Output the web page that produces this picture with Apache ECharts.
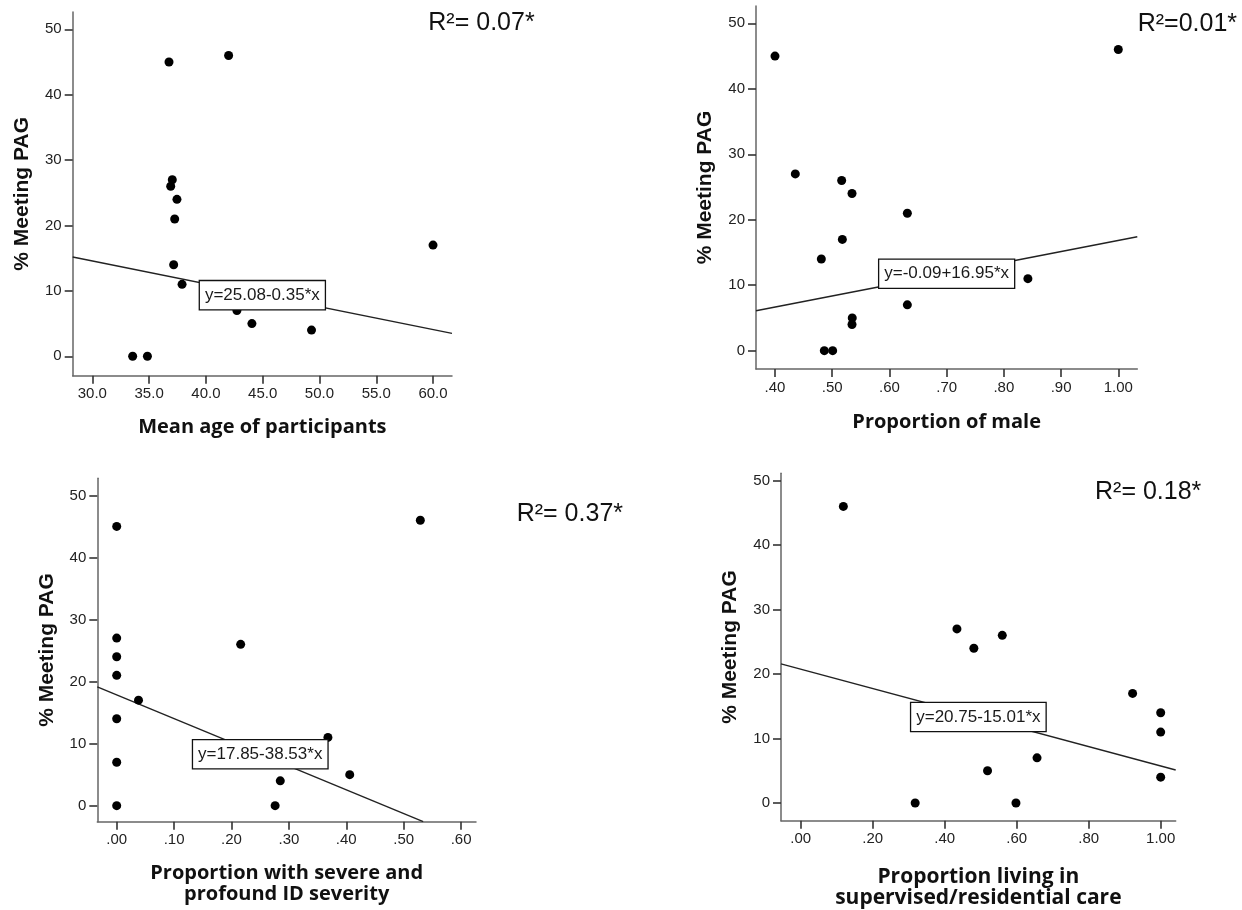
<!DOCTYPE html>
<html>
<head>
<meta charset="utf-8">
<script src="https://cdn.jsdelivr.net/npm/echarts@6/dist/echarts.min.js"></script>
<style>
  html, body { margin: 0; background: #fff; }
  #chart { width: 1242px; height: 910px; }
</style>
</head>
<body>
<div id="chart"></div>
<script>
// shared y ticks (% meeting PAG)
const yTicks = [0, 10, 20, 30, 40, 50];

// panel 1 - mean age
const ageX = [36.75, 42.0, 37.04, 36.9, 37.45, 37.25, 37.16, 37.9, 42.73, 44.05, 49.3, 60.0, 33.55, 34.85];
const ageY = [45, 46, 27, 26, 24, 21, 14, 11, 7, 5, 4, 17, 0, 0];
const ageFitX = [28.27, 61.67];
const ageFitY = [15.19, 3.5];
const ageTicks = [30, 35, 40, 45, 50, 55, 60];

// panel 2 - proportion of male
const maleX = [0.40, 0.4355, 0.5165, 0.5346, 0.6313, 0.5177, 0.481, 0.842, 0.6313, 0.535, 0.5346, 0.4862, 0.5008, 1.00];
const maleY = [45, 27, 26, 24, 21, 17, 14, 11, 7, 5, 4, 0, 0, 46];
const maleFitX = [0.3668, 1.0332];
const maleFitY = [6.1, 17.4];
const maleTicks = [0.4, 0.5, 0.6, 0.7, 0.8, 0.9, 1.0];

// panel 3 - severe / profound ID
const sevX = [0, 0, 0, 0, 0, 0, 0, 0.038, 0.216, 0.368, 0.285, 0.276, 0.406, 0.529];
const sevY = [45, 27, 24, 21, 14, 7, 0, 17, 26, 11, 4, 0, 5, 46];
const sevFitX = [-0.0338, 0.534];
const sevFitY = [19.15, -2.58];
const sevTicks = [0, 0.1, 0.2, 0.3, 0.4, 0.5, 0.6];

// panel 4 - supervised / residential care
const resX = [0.1185, 0.434, 0.481, 0.560, 0.922, 1.00, 1.00, 1.00, 0.6565, 0.519, 0.318, 0.598];
const resY = [46, 27, 24, 26, 17, 14, 11, 4, 7, 5, 0, 0];
const resFitX = [-0.0547, 1.0417];
const resFitY = [21.57, 5.12];
const resTicks = [0, 0.2, 0.4, 0.6, 0.8, 1.0];

const xTitles = [
  'Mean age of participants',
  'Proportion of male',
  'Proportion with severe and\nprofound ID severity',
  'Proportion living in\nsupervised/residential care'
];
const equations = ['y=25.08-0.35*x', 'y=-0.09+16.95*x', 'y=17.85-38.53*x', 'y=20.75-15.01*x'];
const r2Labels = ['R\u00b2= 0.07*', 'R\u00b2=0.01*', 'R\u00b2= 0.37*', 'R\u00b2= 0.18*'];

const zip = (xs, ys) => xs.map((x, i) => [x, ys[i]]);
const propFmt = v => v.toFixed(2).replace(/^0/, '');

const panels = [
  { xs: ageX, ys: ageY, fx: ageFitX, fy: ageFitY, ticks: ageTicks, fmt: v => v.toFixed(1),
    xmin: 28.27, xmax: 61.67, ymin: -2.97, ymax: 52.65, nameGap: 41, titleSize: 20,
    grid: { left: 72.7, top: 12, width: 379.3, height: 363.7 } },
  { xs: maleX, ys: maleY, fx: maleFitX, fy: maleFitY, ticks: maleTicks, fmt: propFmt,
    xmin: 0.3668, xmax: 1.0332, ymin: -2.8, ymax: 52.65, nameGap: 43, titleSize: 20,
    grid: { left: 756, top: 6, width: 381.3, height: 363 } },
  { xs: sevX, ys: sevY, fx: sevFitX, fy: sevFitY, ticks: sevTicks, fmt: propFmt,
    xmin: -0.0338, xmax: 0.626, ymin: -2.58, ymax: 52.75, nameGap: 41, titleSize: 20,
    grid: { left: 97.3, top: 478.3, width: 378.7, height: 343.4 } },
  { xs: resX, ys: resY, fx: resFitX, fy: resFitY, ticks: resTicks, fmt: propFmt,
    xmin: -0.0547, xmax: 1.0417, ymin: -2.75, ymax: 51.14, nameGap: 46, titleSize: 21,
    grid: { left: 781, top: 473.3, width: 394.7, height: 347.4 } }
];

const grid = [], xAxis = [], yAxis = [], series = [];

panels.forEach((p, i) => {
  grid.push(p.grid);
  xAxis.push({
    type: 'value', gridIndex: i,
    min: p.xmin, max: p.xmax,
    name: xTitles[i], nameLocation: 'middle', nameGap: p.nameGap,
    nameTextStyle: { fontFamily: 'Open Sans', fontWeight: 'bold', fontSize: p.titleSize, color: '#111', lineHeight: 21 },
    splitLine: { show: false },
    axisLine: { onZero: false, lineStyle: { color: '#666', width: 1.5 } },
    axisTick: { customValues: p.ticks, length: 8, lineStyle: { color: '#333', width: 1.6 } },
    axisLabel: { customValues: p.ticks, formatter: p.fmt, margin: 11,
      fontFamily: 'Liberation Sans', fontSize: 15, color: '#222' }
  });
  yAxis.push({
    type: 'value', gridIndex: i,
    min: p.ymin, max: p.ymax,
    name: '% Meeting PAG', nameLocation: 'middle', nameGap: 40,
    nameTextStyle: { fontFamily: 'Liberation Sans', fontWeight: 'bold', fontSize: 21, color: '#111' },
    splitLine: { show: false },
    axisLine: { show: true, onZero: false, lineStyle: { color: '#666', width: 1.5 } },
    axisTick: { customValues: yTicks, length: 8, lineStyle: { color: '#333', width: 1.6 } },
    axisLabel: { customValues: yTicks, margin: 11,
      fontFamily: 'Liberation Sans', fontSize: 15, color: '#222' }
  });
  // regression line
  series.push({
    type: 'line', xAxisIndex: i, yAxisIndex: i,
    data: zip(p.fx, p.fy), symbol: 'none', silent: true,
    lineStyle: { color: '#222', width: 1.4 }, z: 2
  });
  // observations
  series.push({
    type: 'scatter', xAxisIndex: i, yAxisIndex: i,
    data: zip(p.xs, p.ys), symbolSize: 9,
    itemStyle: { color: '#000', opacity: 1 }, z: 3
  });
  // equation box at the middle of the fit line
  series.push({
    type: 'scatter', xAxisIndex: i, yAxisIndex: i, silent: true,
    data: [[(p.fx[0] + p.fx[1]) / 2, (p.fy[0] + p.fy[1]) / 2]],
    symbolSize: 1, itemStyle: { color: '#fff', opacity: 1 }, z: 5,
    label: {
      show: true, position: 'inside', formatter: equations[i],
      fontFamily: 'Liberation Sans', fontSize: 17, color: '#1a1a1a',
      backgroundColor: '#fff', borderColor: '#111', borderWidth: 1.3,
      padding: [6, 5, 5, 5], opacity: 1
    }
  });
});

const r2Pos = [[428.3, 23.2], [1137.7, 23.8], [516.7, 513.8], [1095, 492.2]];

const chart = echarts.init(document.getElementById('chart'));
chart.setOption({
  animation: false,
  backgroundColor: '#fff',
  grid, xAxis, yAxis, series,
  graphic: r2Labels.map((t, i) => ({
    type: 'text', x: r2Pos[i][0], y: r2Pos[i][1],
    style: { text: t, font: '25px "Liberation Sans"', fill: '#111', verticalAlign: 'middle' }
  }))
});
</script>
</body>
</html>
